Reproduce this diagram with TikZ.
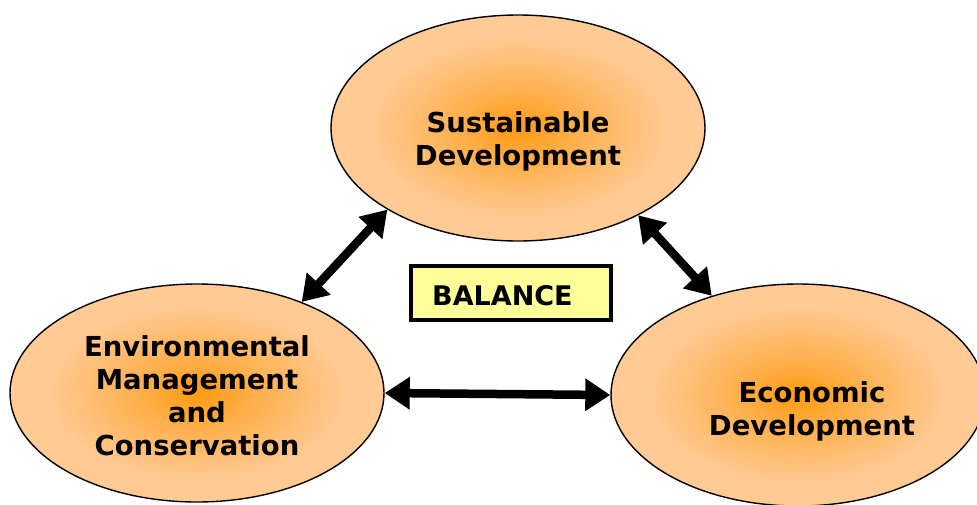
\documentclass[tikz,border=0pt]{standalone}
\usepackage{fontspec}
\setmainfont{DejaVu Sans}
\usetikzlibrary{shapes.geometric,arrows.meta}
\definecolor{inorange}{HTML}{FF9A12}
\definecolor{outpeach}{HTML}{FFCA94}
\definecolor{balyellow}{HTML}{FFFF99}
\pgfdeclareradialshading{glow}{\pgfpoint{0bp}{0bp}}{color(0bp)=(inorange); color(8bp)=(inorange!55!outpeach); color(20bp)=(outpeach); color(50bp)=(outpeach)}
\tikzset{
  blob/.style={ellipse, draw=black, line width=1.4pt, shading=glow, inner sep=0pt},
  lbl/.style={font=\fontsize{27.5}{33}\selectfont\bfseries, align=center, inner sep=0pt},
  dblarrow/.style={line width=8.5pt, {Triangle[length=25pt,width=31pt]}-{Triangle[length=25pt,width=31pt]}},
  balbox/.style={draw=black, line width=4pt, fill=balyellow, minimum width=200pt, minimum height=54pt, inner sep=0pt}
}
\begin{document}
\begin{tikzpicture}[x=1pt,y=-1pt]
\useasboundingbox (0,0) rectangle (977,504);
\node[blob, minimum width=374pt, minimum height=226pt] (sd) at (518,128) {};
\node[blob, minimum width=374pt, minimum height=218pt] (em) at (197,393) {};
\node[blob, minimum width=374pt, minimum height=222pt] (ed) at (798,395) {};
\node[lbl] (sdt) at (518,141) {Sustainable\\Development};
\node[lbl] (emt) at (197,396) {Environmental\\Management\\and\\Conservation};
\node[lbl] (edt) at (812,411) {Economic\\Development};
\node[balbox] (bal) at (511,293) {};
\node[font=\fontsize{27}{32}\selectfont\bfseries, anchor=west, inner sep=0pt] (balt) at (432,296) {BALANCE};
\draw[dblarrow] (em.41) -- (sd.212);
\draw[dblarrow] (ed.131) -- (sd.324);
\draw[dblarrow] (em.0) -- (ed.180);
\end{tikzpicture}
\end{document}
